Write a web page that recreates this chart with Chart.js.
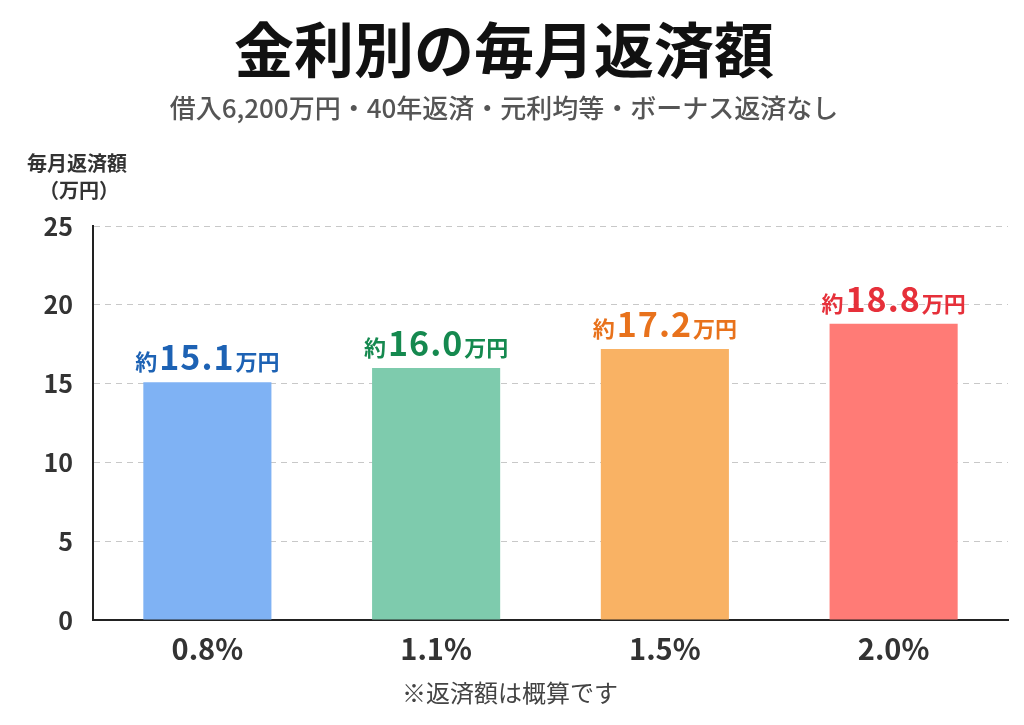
<!DOCTYPE html>
<html lang="ja">
<head>
<meta charset="UTF-8">
<title>金利別の毎月返済額</title>
<script src="https://cdn.jsdelivr.net/npm/chart.js"></script>
<style>
  body { margin: 0; background: #fff; }
  #wrap { width: 1024px; height: 725px; }
</style>
</head>
<body>
<div id="wrap"><canvas id="payChart" width="1024" height="725"></canvas></div>
<script>
const rates = ['0.8%', '1.1%', '1.5%', '2.0%'];
const monthly = [15.1, 16.0, 17.2, 18.8];
const barColors = ['#7fb2f4', '#7ecbad', '#f9b264', '#ff7b76'];
const labelColors = ['#1d62b4', '#15894f', '#e8721c', '#e6303a'];
const yTicks = [0, 5, 10, 15, 20, 25];

const JP = "'Noto Sans CJK JP', 'Noto Sans', sans-serif";

// 棒の上の「約xx.x万円」、縦軸タイトル、注記
const extraText = {
  id: 'extraText',
  afterDatasetsDraw(chart) {
    const ctx = chart.ctx;
    const meta = chart.getDatasetMeta(0);
    ctx.save();
    ctx.textBaseline = 'alphabetic';
    meta.data.forEach((bar, i) => {
      const pre = '約', num = monthly[i].toFixed(1), post = '万円';
      ctx.letterSpacing = '0px';
      ctx.font = 'bold 22px ' + JP;
      const w1 = ctx.measureText(pre).width;
      const w3 = ctx.measureText(post).width;
      ctx.font = 'bold 34px ' + JP;
      ctx.letterSpacing = '1px';
      const w2 = ctx.measureText(num).width;
      let x = bar.x - (w1 + w2 + w3 + 3) / 2;
      const y = bar.y - 12;
      ctx.fillStyle = labelColors[i];
      ctx.textAlign = 'left';
      ctx.letterSpacing = '0px';
      ctx.font = 'bold 22px ' + JP;
      ctx.fillText(pre, x, y);
      x += w1 + 2;
      ctx.letterSpacing = '1px';
      ctx.font = 'bold 34px ' + JP;
      ctx.fillText(num, x, y);
      x += w2 + 1;
      ctx.letterSpacing = '0px';
      ctx.font = 'bold 22px ' + JP;
      ctx.fillText(post, x, y);
    });

    ctx.fillStyle = '#333';
    ctx.textAlign = 'center';
    ctx.textBaseline = 'middle';
    ctx.font = 'bold 20px ' + JP;
    ctx.fillText('毎月返済額', 77, 163);
    ctx.fillText('（万円）', 79, 190);

    ctx.fillStyle = '#444';
    ctx.font = '24px ' + JP;
    ctx.fillText('※返済額は概算です', 510, 693);
    ctx.restore();
  }
};

const ctx = document.getElementById('payChart').getContext('2d');
new Chart(ctx, {
  type: 'bar',
  data: {
    labels: rates,
    datasets: [{
      data: monthly,
      backgroundColor: barColors,
      barPercentage: 0.56,
      categoryPercentage: 1.0
    }]
  },
  options: {
    responsive: false,
    animation: false,
    layout: { padding: { left: 0, right: 16, bottom: 0 } },
    scales: {
      x: {
        afterFit(scale) { scale.height = 105; },
        grid: { display: false, drawTicks: false },
        border: { color: '#222', width: 2 },
        ticks: {
          color: '#333',
          padding: 12,
          font: { family: JP, size: 29, weight: 'bold' }
        }
      },
      y: {
        min: 0,
        max: 25,
        afterFit(scale) { scale.width = 93; },
        afterBuildTicks(axis) { axis.ticks = yTicks.map(v => ({ value: v })); },
        grid: {
          color: (c) => c.tick && c.tick.value === 0 ? 'rgba(0,0,0,0)' : '#c8c8c8',
          drawTicks: false
        },
        border: { color: '#222', width: 2, dash: [6, 5] },
        ticks: {
          color: '#333',
          padding: 20,
          font: { family: JP, size: 25, weight: 'bold' }
        }
      }
    },
    plugins: {
      legend: { display: false },
      tooltip: { enabled: false },
      title: {
        display: true,
        text: '金利別の毎月返済額',
        color: '#111',
        font: { family: JP, size: 60, weight: 'bold' },
        padding: { top: 14, bottom: 7 }
      },
      subtitle: {
        display: true,
        text: '借入6,200万円・40年返済・元利均等・ボーナス返済なし',
        color: '#555',
        font: { family: JP, size: 26, weight: '500' },
        padding: { top: 0, bottom: 102 }
      }
    }
  },
  plugins: [extraText]
});
</script>
</body>
</html>
